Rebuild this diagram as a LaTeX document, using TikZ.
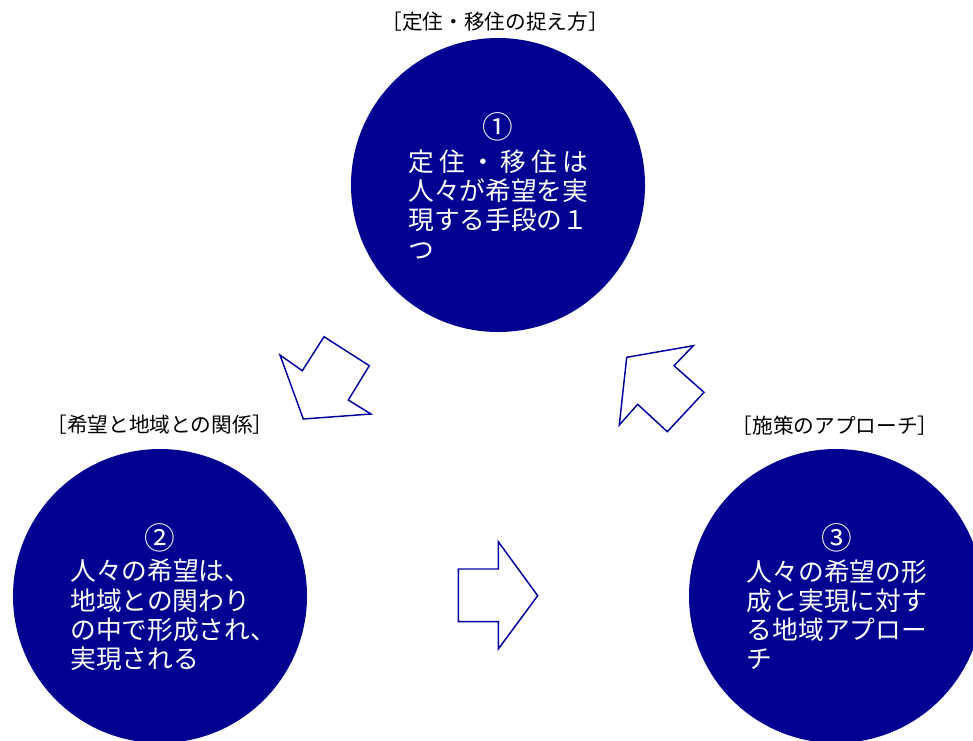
\documentclass[tikz,border=0pt]{standalone}
\usepackage{fontspec}
\setmainfont{Noto Sans CJK JP}
\definecolor{navy}{RGB}{0,0,145}
\definecolor{arrowblue}{RGB}{0,0,160}
\begin{document}
\begin{tikzpicture}[x=0.75pt,y=-0.75pt,
  disc/.style={circle,fill=navy,draw=none,minimum size=220.5pt,inner sep=0pt},
  disctext/.style={text=white,align=left,inner sep=0pt,font=\fontsize{19.3pt}{21.9pt}\selectfont},
  digit/.style={text=white,inner sep=0pt,font=\fontsize{23pt}{24pt}\selectfont},
  caption/.style={text=black,inner sep=0pt,font=\fontsize{15.5pt}{18pt}\selectfont},
  blockarrow/.style={draw=arrowblue,line width=1.1pt,fill=white,line join=miter}
]
\useasboundingbox (0,0) rectangle (973,740);
% circles
\node[disc] (c1) at (498,185) {};
\node[disc] (c2) at (160,596) {};
\node[disc] (c3) at (836,596) {};
% captions
\node[caption] (l1) at (495,22) {［定住・移住の捉え方］};
\node[caption] (l2) at (160,425) {［希望と地域との関係］};
\node[caption] (l3) at (835,426) {［施策のアプローチ］};
% digits
\node[digit] (d1) at (498,127) {①};
\node[digit] (d2) at (160,538) {②};
\node[digit] (d3) at (837,538) {③};
% texts
\node[disctext,anchor=west] (t1) at (408,204.5) {\makebox[7em][s]{定\hfill 住\hfill ・\hfill 移\hfill 住\hfill は}\\人々が希望を実\\現する手段の１\\つ};
\node[disctext,anchor=west] (t2) at (70,615) {人々の希望は、\\地域との関わり\\の中で形成され、\\実現される};
\node[disctext,anchor=west] (t3) at (746.7,614.5) {人々の希望の形\\成と実現に対す\\る地域アプロー\\チ};
% block arrows
\draw[blockarrow] (280,355) -- (302.3,370.7) -- (324,336.7) -- (369.3,365.7) -- (348.3,400) -- (371,414) -- (303.3,419) -- cycle;
\draw[blockarrow] (626.7,357.3) -- (693.3,345.7) -- (674,365.7) -- (704,392.3) -- (667.3,431.7) -- (637.7,404.3) -- (619.3,425) -- cycle;
\draw[blockarrow] (458.3,569) -- (498.3,569) -- (498.3,541.7) -- (537.7,595.7) -- (498.3,649) -- (498.3,621.7) -- (458.3,621.7) -- cycle;
\end{tikzpicture}
\end{document}
